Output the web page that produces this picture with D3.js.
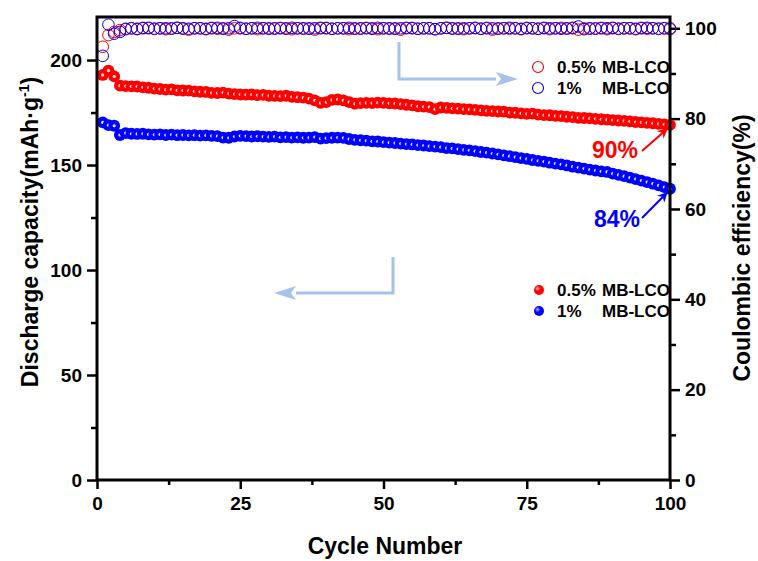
<!DOCTYPE html>
<html>
<head>
<meta charset="utf-8">
<script src="https://cdnjs.cloudflare.com/ajax/libs/d3/7.8.5/d3.min.js"></script>
<style>
  body { margin: 0; background: #fff; }
  svg { display: block; font-family: "Liberation Sans", Arial, sans-serif; font-weight: bold; }
</style>
</head>
<body>
<svg width="758" height="561"></svg>
<script>
// cycle numbers 1..100
const cycles = d3.range(1, 101);

// discharge capacity (mAh/g)
const capRed = [192.9,195.0,192.2,187.8,187.6,187.5,187.4,187.0,186.8,186.4,
  186.2,185.9,186.0,185.6,185.5,185.4,185.1,184.9,184.8,184.4,
  184.3,184.5,184.0,183.8,183.6,183.5,183.6,183.3,183.4,183.0,
  182.9,182.8,183.0,182.5,182.3,182.1,181.6,180.8,179.6,180.0,
  181.0,181.2,180.8,180.0,179.2,179.5,179.6,179.5,179.7,179.6,
  179.4,179.3,179.0,178.7,178.4,178.0,177.8,177.6,176.6,177.4,
  177.2,177.0,176.9,176.6,176.5,176.3,176.0,175.8,175.7,175.5,
  175.4,175.0,174.9,174.6,174.4,174.5,174.0,173.8,173.7,173.4,
  173.3,173.0,172.8,172.5,172.4,172.2,172.0,171.8,171.6,171.4,
  171.2,171.0,170.8,170.5,170.3,170.1,169.9,169.6,169.4,169.1];

const capBlue = [170.3,169.0,168.7,164.3,165.2,164.9,164.8,164.9,164.6,164.5,
  164.6,164.3,164.5,164.2,164.3,164.1,164.2,164.0,164.1,163.9,
  163.8,163.1,163.0,163.6,163.9,163.8,163.6,163.7,163.5,163.4,
  163.5,163.2,163.3,163.1,163.2,163.0,163.1,163.3,162.6,162.8,
  163.0,163.1,162.9,162.4,162.0,161.8,161.6,161.3,161.2,160.9,
  160.7,160.5,160.2,160.0,159.8,159.5,159.3,159.0,158.8,158.5,
  158.1,157.9,157.6,157.2,157.0,156.6,156.2,155.9,155.5,155.1,
  154.6,154.2,153.8,153.3,152.9,152.4,152.0,151.6,151.1,150.7,
  150.3,149.8,149.2,148.8,148.3,147.8,147.4,147.0,146.7,145.9,
  145.3,144.7,144.0,143.3,142.6,141.9,141.1,140.3,139.5,138.7];

// coulombic efficiency (%)
const ceRed = [95.9,98.5,99.2,99.6,99.9,100.0,99.8,100.1,100.0,99.9,
  100.0,99.8,100.0,100.1,99.9,99.7,100.0,100.0,99.8,100.1,
  99.9,100.0,99.7,100.0,100.1,99.9,100.0,99.8,100.0,100.0,
  99.9,100.1,100.0,99.8,100.0,99.9,100.0,99.7,100.0,100.1,
  99.9,100.0,100.0,99.8,100.0,99.9,100.1,100.0,99.8,100.0,
  99.9,100.0,99.7,100.0,100.1,99.9,100.0,100.0,99.8,100.0,
  100.1,99.9,100.0,99.8,100.0,100.0,99.9,100.1,99.7,100.0,
  100.0,99.9,100.0,99.8,100.1,100.0,99.9,100.0,99.8,100.0,
  100.1,99.9,100.0,99.7,100.0,99.9,100.0,100.1,99.8,100.0,
  99.9,100.0,100.0,99.8,100.1,99.9,100.0,99.9,100.0,99.8];

const ceBlue = [93.9,100.8,98.8,99.2,99.8,100.0,99.9,100.0,100.1,99.9,
  100.0,100.0,99.9,100.1,100.0,99.9,100.0,100.0,99.9,100.0,
  100.1,99.9,100.0,100.5,100.0,99.9,100.0,100.1,100.0,99.9,
  100.0,100.0,99.9,100.1,100.0,100.0,99.9,100.0,100.1,100.0,
  99.9,100.0,100.0,100.1,99.9,100.0,100.0,99.9,100.1,100.0,
  100.0,99.9,100.0,100.1,100.0,99.9,100.0,100.0,99.8,100.0,
  100.1,100.0,99.9,100.0,100.0,100.1,99.9,100.0,100.0,99.9,
  100.0,100.1,100.0,99.9,100.0,100.0,99.9,100.1,100.0,100.0,
  99.9,100.0,100.1,100.4,99.8,100.0,99.9,100.0,100.0,100.1,
  99.9,100.0,100.0,99.9,100.0,100.1,100.0,99.9,100.0,100.0];

const seriesNames = ["0.5% MB-LCO", "1%    MB-LCO"];
const retention = ["90%", "84%"];

const xTicks = [0, 25, 50, 75, 100];
const xMinor = [12.5, 37.5, 62.5, 87.5];
const yLTicks = [0, 50, 100, 150, 200];
const yLMinor = [25, 75, 125, 175];
const yRTicks = [0, 20, 40, 60, 80, 100];
const yRMinor = [10, 30, 50, 70, 90];

const svg = d3.select("svg");
const margin = {top: 17, right: 88, bottom: 81, left: 97};
const width = 758 - margin.left - margin.right;
const height = 561 - margin.top - margin.bottom;
const g = svg.append("g").attr("transform", `translate(${margin.left},${margin.top})`);

const x = d3.scaleLinear().domain([0, 100]).range([0, width]);
const yL = d3.scaleLinear().domain([0, 220.5]).range([height, 0]);
const yR = d3.scaleLinear().domain([0, 102.5]).range([height, 0]);

const red = "#ff0000", blue = "#0000ff", arrowBlue = "#a6c1ea";

// axes
function styleAxis(sel) {
  sel.select(".domain").remove();
  sel.selectAll(".tick line").attr("stroke", "#000").attr("stroke-width", 2.5);
  sel.selectAll(".tick text").attr("font-size", 19).attr("font-weight", "bold")
    .attr("font-family", "Liberation Sans, Arial, sans-serif").attr("fill", "#000");
}
g.append("g").attr("transform", `translate(0,${height})`)
  .call(d3.axisBottom(x).tickValues(xTicks).tickSize(9).tickPadding(8)).call(styleAxis);
g.append("g").attr("transform", `translate(0,${height})`)
  .call(d3.axisBottom(x).tickValues(xMinor).tickSize(5).tickFormat("")).call(styleAxis);
g.append("g")
  .call(d3.axisLeft(yL).tickValues(yLTicks).tickSize(10).tickPadding(5)).call(styleAxis);
g.append("g")
  .call(d3.axisLeft(yL).tickValues(yLMinor).tickSize(6).tickFormat("")).call(styleAxis);
g.append("g").attr("transform", `translate(${width},0)`)
  .call(d3.axisRight(yR).tickValues(yRTicks).tickSize(10).tickPadding(5)).call(styleAxis);
g.append("g").attr("transform", `translate(${width},0)`)
  .call(d3.axisRight(yR).tickValues(yRMinor).tickSize(6).tickFormat("")).call(styleAxis);

// coulombic efficiency, open circles
const ceSets = [{v: ceRed, c: red}, {v: ceBlue, c: blue}];
ceSets.forEach(s => {
  g.append("g").selectAll("circle").data(cycles).join("circle")
    .attr("cx", d => x(d)).attr("cy", (d, i) => yR(s.v[i]))
    .attr("r", 5.8).attr("fill", "none").attr("stroke", s.c).attr("stroke-width", 1);
});

// discharge capacity, filled circles with a white centre
const capSets = [{v: capRed, c: red}, {v: capBlue, c: blue}];
capSets.forEach(s => {
  const pts = g.append("g").selectAll("g").data(cycles).join("g")
    .attr("transform", (d, i) => `translate(${x(d)},${yL(s.v[i])})`);
  pts.append("circle").attr("r", 5.9).attr("fill", s.c);
  pts.append("circle").attr("r", 1.6).attr("fill", "#fff").attr("opacity", 0.9);
});

// frame
g.append("rect").attr("width", width).attr("height", height)
  .attr("fill", "none").attr("stroke", "#000").attr("stroke-width", 3);

// axis titles
svg.append("text").attr("x", 385).attr("y", 554).attr("text-anchor", "middle")
  .attr("font-size", 23).text("Cycle Number");
const lt = svg.append("text").attr("transform", "translate(38,232) rotate(-90)")
  .attr("text-anchor", "middle").attr("font-size", 23);
lt.append("tspan").text("Discharge capacity(mAh·g");
lt.append("tspan").attr("font-size", 14).attr("dy", -9).text("-1");
lt.append("tspan").attr("dy", 9).text(")");
svg.append("text").attr("transform", "translate(750,248) rotate(-90)")
  .attr("text-anchor", "middle").attr("font-size", 23).text("Coulombic efficiency(%)");

// defs: arrowheads and sphere gradients
const defs = svg.append("defs");
[["ahRed", red], ["ahBlue", blue]].forEach(([id, c]) => {
  defs.append("marker").attr("id", id).attr("viewBox", "0 0 10 10")
    .attr("refX", 9).attr("refY", 5).attr("markerWidth", 5).attr("markerHeight", 5)
    .attr("orient", "auto").attr("markerUnits", "strokeWidth")
    .append("path").attr("d", "M0,0 L10,5 L0,10 L3,5 Z").attr("fill", c);
});
[["gRed", red, "#ffb0b0"], ["gBlue", blue, "#b0b0ff"]].forEach(([id, c, hi]) => {
  const rg = defs.append("radialGradient").attr("id", id).attr("cx", "35%").attr("cy", "35%").attr("r", "65%");
  rg.append("stop").attr("offset", "0%").attr("stop-color", hi);
  rg.append("stop").attr("offset", "45%").attr("stop-color", c);
  rg.append("stop").attr("offset", "100%").attr("stop-color", c);
});

// legends
const legTop = [{c: red, name: seriesNames[0]}, {c: blue, name: seriesNames[1]}];
legTop.forEach((d, i) => {
  const yy = 67 + i * 21;
  svg.append("circle").attr("cx", 538).attr("cy", yy).attr("r", 5.5)
    .attr("fill", "none").attr("stroke", d.c).attr("stroke-width", 1.1);
  const t = svg.append("text").attr("x", 557).attr("y", yy + 6).attr("font-size", 17);
  const parts = d.name.split(/\s+/);
  t.append("tspan").text(parts[0]);
  t.append("tspan").attr("x", 602).text(parts[1]);
});
const legBot = [{g: "url(#gRed)", name: seriesNames[0]}, {g: "url(#gBlue)", name: seriesNames[1]}];
legBot.forEach((d, i) => {
  const yy = 290 + i * 21;
  svg.append("circle").attr("cx", 539).attr("cy", yy).attr("r", 5).attr("fill", d.g);
  const t = svg.append("text").attr("x", 557).attr("y", yy + 6).attr("font-size", 17);
  const parts = d.name.split(/\s+/);
  t.append("tspan").text(parts[0]);
  t.append("tspan").attr("x", 602).text(parts[1]);
});

// light blue guide arrows
function bigArrow(pts, dir) {
  svg.append("path").attr("d", d3.line()(pts)).attr("fill", "none")
    .attr("stroke", arrowBlue).attr("stroke-width", 3);
  const [ex, ey] = pts[pts.length - 1];
  const hl = 22, hw = 7;
  svg.append("path")
    .attr("d", `M${ex + dir * hl},${ey} L${ex},${ey - hw} L${ex + dir * 5},${ey} L${ex},${ey + hw} Z`)
    .attr("fill", arrowBlue);
}
bigArrow([[399, 42], [399, 79], [496, 79]], 1);
bigArrow([[393, 257], [393, 293], [296, 293]], -1);

// retention labels
svg.append("text").attr("x", 592).attr("y", 158).attr("font-size", 23).attr("fill", red).text(retention[0]);
svg.append("line").attr("x1", 642).attr("y1", 151).attr("x2", x(100) + margin.left - 3).attr("y2", yL(capRed[99]) + margin.top + 4)
  .attr("stroke", red).attr("stroke-width", 2).attr("marker-end", "url(#ahRed)");
svg.append("text").attr("x", 594).attr("y", 227).attr("font-size", 23).attr("fill", blue).text(retention[1]);
svg.append("line").attr("x1", 642).attr("y1", 218).attr("x2", x(100) + margin.left - 3).attr("y2", yL(capBlue[99]) + margin.top + 4)
  .attr("stroke", blue).attr("stroke-width", 2).attr("marker-end", "url(#ahBlue)");
</script>
</body>
</html>
